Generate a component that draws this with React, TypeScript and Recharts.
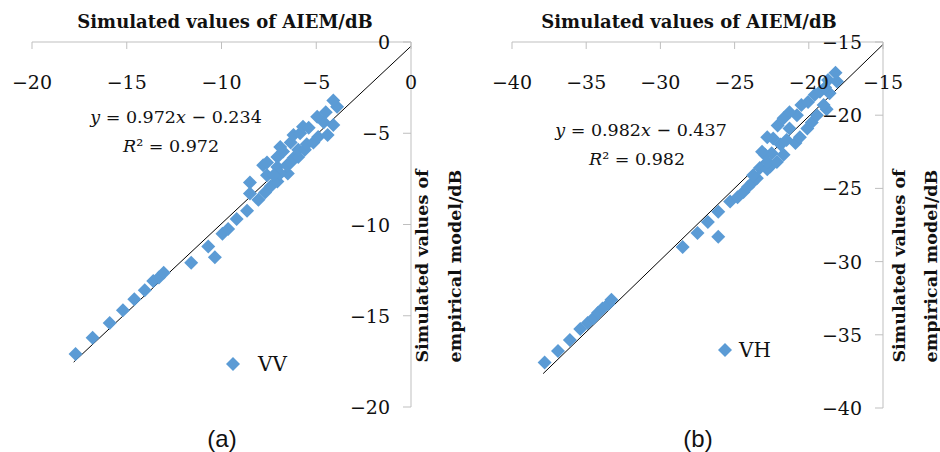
import React from 'react';
import { ScatterChart, Scatter, XAxis, YAxis, ReferenceLine, Legend } from 'recharts';

// VV: [AIEM, empirical] in dB
const vvPoints: [number, number][] = [
  [-17.7, -17.1], [-16.8, -16.2], [-15.9, -15.4], [-15.2, -14.7], [-14.6, -14.1],
  [-14.05, -13.6], [-13.6, -13.1], [-13.3, -12.9], [-13.05, -12.65], [-11.6, -12.1],
  [-10.7, -11.2], [-10.35, -11.8], [-9.95, -10.5], [-9.65, -10.25], [-9.2, -9.7],
  [-8.65, -9.25], [-8.5, -7.7], [-8.5, -8.3], [-8.05, -8.65], [-7.7, -8.25],
  [-7.6, -7.3], [-7.4, -7.9], [-7.05, -7.65], [-6.5, -7.2], [-7.8, -6.75],
  [-7.6, -6.6], [-7.05, -6.85], [-6.9, -7.2], [-7.25, -7.3], [-6.55, -6.75],
  [-6.35, -6.6], [-7.05, -6.3], [-6.2, -6.35], [-5.95, -6.3], [-6.75, -6.0],
  [-6.9, -5.75], [-5.95, -5.9], [-5.6, -5.9], [-6.35, -5.5], [-5.5, -5.6],
  [-6.2, -5.1], [-5.85, -5.0], [-5.15, -5.5], [-4.9, -5.2], [-4.4, -5.1],
  [-5.7, -4.65], [-5.4, -4.7], [-4.6, -4.4], [-4.1, -4.55], [-4.95, -4.1],
  [-4.5, -3.85], [-3.9, -3.55], [-4.1, -3.2],
];

// VH: [AIEM, empirical] in dB
const vhPoints: [number, number][] = [
  [-37.8, -36.9], [-36.9, -36.1], [-36.1, -35.35], [-35.4, -34.6], [-34.9, -34.2],
  [-34.5, -33.85], [-34.2, -33.5], [-33.9, -33.2], [-33.5, -32.9], [-33.3, -32.6],
  [-28.5, -29.0], [-27.5, -28.05], [-26.8, -27.3], [-26.1, -28.3], [-26.1, -26.6],
  [-25.3, -25.9], [-24.8, -25.6], [-24.4, -25.25], [-24.1, -24.9], [-23.8, -24.6],
  [-23.5, -24.3], [-22.95, -22.7], [-22.6, -23.5], [-23.75, -24.1], [-23.3, -23.6],
  [-22.8, -23.7], [-22.8, -23.2], [-22.15, -23.2], [-21.7, -22.7], [-22.5, -22.6],
  [-23.15, -22.5], [-21.9, -22.0], [-20.9, -21.9], [-20.6, -21.5], [-21.5, -21.7],
  [-22.4, -21.6], [-22.8, -21.5], [-20.1, -20.9], [-21.3, -20.9], [-22.1, -20.7],
  [-21.7, -20.2], [-19.8, -20.5], [-19.45, -20.0], [-20.8, -20.0], [-21.3, -19.8],
  [-18.8, -19.6], [-19.0, -19.3], [-20.5, -19.3], [-20.05, -19.1], [-18.6, -18.5],
  [-19.6, -18.6], [-19.25, -18.4], [-18.9, -18.1], [-18.7, -17.6], [-18.1, -17.7],
  [-18.2, -17.1],
];

// fitted lines, ends
const vvTrend = [{ x: -17.8, y: -17.54 }, { x: 0, y: -0.23 }];
const vhTrend = [{ x: -37.9, y: -37.65 }, { x: -15, y: -15.17 }];

const vvTicks = [-20, -15, -10, -5, 0];
const vhTicks = [-40, -35, -30, -25, -20, -15];

const SERIF = '"DejaVu Serif", serif';
const BLUE = '#5B9BD5';
const GREY = '#BFBFBF';

const fmt = (v: number) => (v < 0 ? '\u2212' + Math.abs(v) : String(v));

const Diamond = (props: any) => {
  const { cx, cy } = props;
  if (cx == null || cy == null) return <g />;
  const r = 7;
  return (
    <polygon
      points={`${cx},${cy - r} ${cx + r},${cy} ${cx},${cy + r} ${cx - r},${cy}`}
      fill={BLUE}
    />
  );
};

const XTick = (props: any) => {
  const { x, y, payload } = props;
  return (
    <g>
      <line x1={x} y1={y} x2={x} y2={y + 7} stroke={GREY} />
      <text x={x} y={y + 47} textAnchor="middle" fontFamily={SERIF} fontSize={19} fill="#111">
        {fmt(payload.value)}
      </text>
    </g>
  );
};

const YTick = (props: any) => {
  const { x, y, payload } = props;
  return (
    <g>
      <line x1={x - 8} y1={y} x2={x} y2={y} stroke={GREY} />
      <text x={x - 21} y={y + 7} textAnchor="end" fontFamily={SERIF} fontSize={19} fill="#111">
        {fmt(payload.value)}
      </text>
    </g>
  );
};

const LegendItem = ({ label, gap }: { label: string; gap: number }) => (
  <div style={{ display: 'flex', alignItems: 'center', fontFamily: SERIF, fontSize: 20, color: '#111' }}>
    <svg width={16} height={16} style={{ marginRight: gap }}>
      <polygon points="8,1 15,8 8,15 1,8" fill={BLUE} />
    </svg>
    <span>{label}</span>
  </div>
);

interface PanelProps {
  points: [number, number][];
  trend: { x: number; y: number }[];
  ticks: number[];
  name: string;
  margin: { top: number; right: number; bottom: number; left: number };
  legendPos: { left: number; top: number; gap: number };
}

const Panel = ({ points, trend, ticks, name, margin, legendPos }: PanelProps) => {
  const data = points.map(([x, y]) => ({ x, y }));
  const domain: [number, number] = [ticks[0], ticks[ticks.length - 1]];
  return (
    <ScatterChart width={470} height={452} margin={margin}>
      <XAxis
        type="number"
        dataKey="x"
        orientation="top"
        height={30}
        domain={domain}
        ticks={ticks}
        allowDataOverflow
        tickLine={false}
        tickSize={0}
        tickMargin={0}
        axisLine={{ stroke: GREY }}
        tick={(p: any) => <XTick {...p} />}
      />
      <YAxis
        type="number"
        dataKey="y"
        orientation="right"
        width={20}
        domain={domain}
        ticks={ticks}
        allowDataOverflow
        tickLine={false}
        tickSize={0}
        tickMargin={0}
        axisLine={{ stroke: GREY }}
        tick={(p: any) => <YTick {...p} />}
      />
      <ReferenceLine
        segment={trend}
        stroke="#000"
        strokeWidth={1}
        ifOverflow="visible"
      />
      <Scatter name={name} data={data} fill={BLUE} shape={<Diamond />} isAnimationActive={false} />
      <Legend
        layout="horizontal"
        verticalAlign="middle"
        align="center"
        wrapperStyle={{ left: legendPos.left, top: legendPos.top, width: 90 }}
        content={() => <LegendItem label={name} gap={legendPos.gap} />}
      />
    </ScatterChart>
  );
};

const T = { fontFamily: SERIF, fill: '#111' };
const SANS = '"Liberation Sans", Arial, sans-serif';

export default function App() {
  return (
    <div style={{ position: 'relative', width: 940, height: 452, background: '#fff' }}>
      <style>{'body{margin:0;}'}</style>
      <div style={{ display: 'flex' }}>
        <Panel
          points={vvPoints}
          trend={vvTrend}
          ticks={vvTicks}
          name="VV"
          margin={{ top: 12, right: 39, bottom: 45, left: 32 }}
          legendPos={{ left: 225, top: 352, gap: 17 }}
        />
        <Panel
          points={vhPoints}
          trend={vhTrend}
          ticks={vhTicks}
          name="VH"
          margin={{ top: 12, right: 37, bottom: 44, left: 42 }}
          legendPos={{ left: 247, top: 338, gap: 6 }}
        />
      </div>
      <svg
        width={940}
        height={452}
        style={{ position: 'absolute', left: 0, top: 0, pointerEvents: 'none' }}
      >
        {/* panel a */}
        <text x={225} y={28} textAnchor="middle" fontSize={18} fontWeight="bold" {...T}>
          Simulated values of AIEM/dB
        </text>
        <text x={176} y={123} textAnchor="middle" fontSize={17.5} {...T}>
          <tspan fontStyle="italic">y</tspan> = 0.972<tspan fontStyle="italic">x</tspan> − 0.234
        </text>
        <text x={171} y={152} textAnchor="middle" fontSize={17.5} {...T}>
          <tspan fontStyle="italic">R</tspan>² = 0.972
        </text>
        <text transform="rotate(-90 428 266)" x={428} y={266} textAnchor="middle" fontSize={17.5} fontWeight="bold" {...T}>
          Simulated values of
        </text>
        <text transform="rotate(-90 461 266)" x={461} y={266} textAnchor="middle" fontSize={17.5} fontWeight="bold" {...T}>
          empirical model/dB
        </text>
        <text x={222} y={447} textAnchor="middle" fontSize={24} fontFamily={SANS} fill="#111">
          (a)
        </text>
        {/* panel b */}
        <text x={689} y={28} textAnchor="middle" fontSize={18} fontWeight="bold" {...T}>
          Simulated values of AIEM/dB
        </text>
        <text x={641} y={136} textAnchor="middle" fontSize={17.5} {...T}>
          <tspan fontStyle="italic">y</tspan> = 0.982<tspan fontStyle="italic">x</tspan> − 0.437
        </text>
        <text x={637} y={165} textAnchor="middle" fontSize={17.5} {...T}>
          <tspan fontStyle="italic">R</tspan>² = 0.982
        </text>
        <text transform="rotate(-90 905 266)" x={905} y={266} textAnchor="middle" fontSize={17.5} fontWeight="bold" {...T}>
          Simulated values of
        </text>
        <text transform="rotate(-90 937 266)" x={937} y={266} textAnchor="middle" fontSize={17.5} fontWeight="bold" {...T}>
          empirical model/dB
        </text>
        <text x={698} y={447} textAnchor="middle" fontSize={24} fontFamily={SANS} fill="#111">
          (b)
        </text>
      </svg>
    </div>
  );
}
